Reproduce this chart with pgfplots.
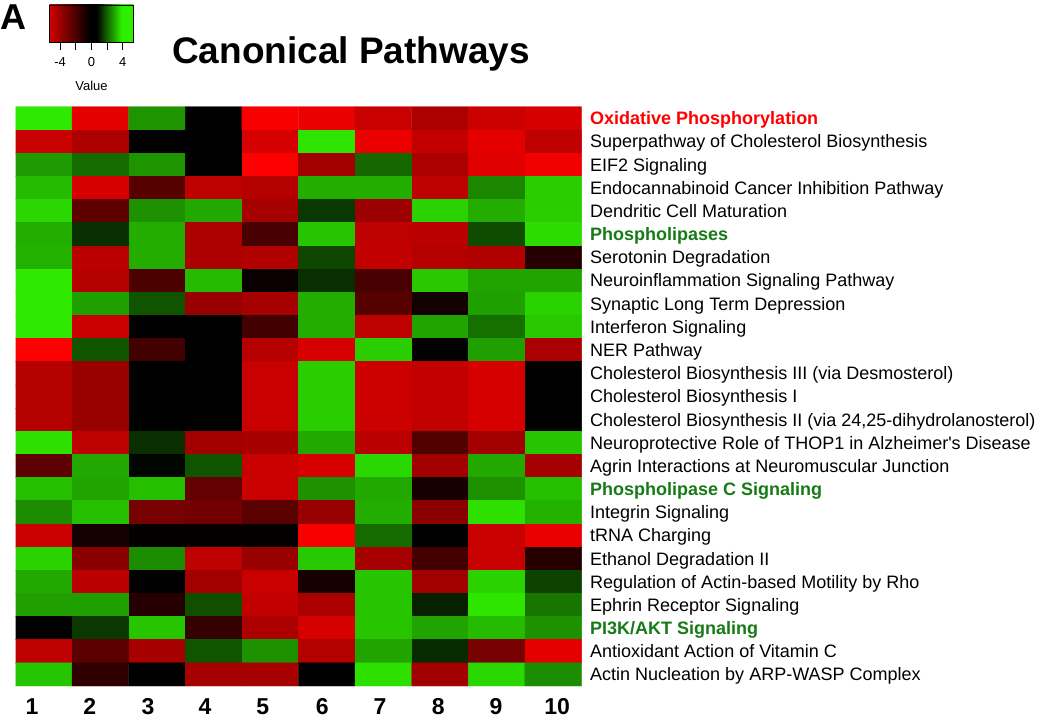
\documentclass[border=0pt]{standalone}
\usepackage{pgfplots}
\pgfplotsset{compat=1.18}
\usepackage{fontspec}
\setmainfont{Liberation Sans}
\definecolor{hlred}{RGB}{255,0,0}
\definecolor{hlgreen}{RGB}{22,122,22}
\definecolor{keyred}{RGB}{255,0,0}
\definecolor{keygreen}{RGB}{45,240,0}
\pgfdeclarehorizontalshading{keyshade}{100bp}{color(0bp)=(keyred); color(20bp)=(keyred); color(49bp)=(black); color(53bp)=(black); color(68bp)=(keygreen); color(100bp)=(keygreen)}

\begin{document}
\begin{tikzpicture}[x=1pt,y=1pt]
\path[use as bounding box] (0,0) rectangle (1050,-718);
\begin{axis}[
  at={(15.5pt,-106.7pt)}, anchor=north west,
  scale only axis, width=566pt, height=579.3pt,
  xmin=0.5, xmax=10.5, ymin=0.5, ymax=25.5,
  axis line style={draw=none},
  major tick length=0pt,
  colormap={rg}{rgb255(0cm)=(255,0,0); rgb255(1cm)=(0,0,0); rgb255(2cm)=(50,250,0)},
  point meta min=-5.35, point meta max=5.35,
  xtick={0.79,1.81,2.84,3.85,4.87,5.92,6.94,7.97,8.99,10.07},
  xticklabels={1,2,3,4,5,6,7,8,9,10},
  xticklabel style={font=\fontsize{23}{24}\selectfont\bfseries, anchor=base, yshift=-28pt, inner sep=0pt},
  ytick={1,...,25},
  yticklabel pos=right,
  yticklabels={
    Actin Nucleation by ARP-WASP Complex,
    Antioxidant Action of Vitamin C,
    \textcolor{hlgreen}{\bfseries PI3K/AKT Signaling},
    Ephrin Receptor Signaling,
    Regulation of Actin-based Motility by Rho,
    Ethanol Degradation II,
    tRNA Charging,
    Integrin Signaling,
    \textcolor{hlgreen}{\bfseries Phospholipase C Signaling},
    Agrin Interactions at Neuromuscular Junction,
    Neuroprotective Role of THOP1 in Alzheimer\textquotesingle s Disease,
    {Cholesterol Biosynthesis II (via 24,25-dihydrolanosterol)},
    Cholesterol Biosynthesis I,
    Cholesterol Biosynthesis III (via Desmosterol),
    NER Pathway,
    Interferon Signaling,
    Synaptic Long Term Depression,
    Neuroinflammation Signaling Pathway,
    Serotonin Degradation,
    \textcolor{hlgreen}{\bfseries Phospholipases},
    Dendritic Cell Maturation,
    Endocannabinoid Cancer Inhibition Pathway,
    EIF2 Signaling,
    Superpathway of Cholesterol Biosynthesis,
    \textcolor{hlred}{\bfseries Oxidative Phosphorylation}
  },
  yticklabel style={font=\fontsize{18}{20}\selectfont, anchor=base west, inner sep=0pt, xshift=8.5pt, yshift=-6.5pt},
  colorbar horizontal,
  colorbar style={
    at={(0.06,1.1756)}, anchor=north west,
    scale only axis, width=84pt, height=37pt,
    ymin=0, ymax=1,
    axis line style={draw=none},
    xtick={-4,-2,0,2,4}, xticklabels={-4,,0,,4},
    xtick pos=lower, tick align=outside, major tick length=8pt,
    tick style={line width=0.8pt, black},
    xticklabel style={font=\fontsize{13}{13}\selectfont, yshift=-4pt},
    xlabel={Value},
    xlabel style={font=\fontsize{13}{13}\selectfont, yshift=-7pt},
    extra description/.code={
      \shade[shading=keyshade] (rel axis cs:0,0) rectangle (rel axis cs:1,1);
      \draw[black, line width=0.8pt] (rel axis cs:0,0) rectangle (rel axis cs:1,1);
    },
  },
]
\addplot[matrix plot*, mesh/cols=10, point meta=explicit] coordinates {
(1,25)[5.0] (2,25)[-4.8] (3,25)[3.2] (4,25)[0] (5,25)[-5.2] (6,25)[-4.9] (7,25)[-4.2] (8,25)[-3.6] (9,25)[-4.3] (10,25)[-4.5]
(1,24)[-4.2] (2,24)[-3.6] (3,24)[0] (4,24)[0] (5,24)[-4.5] (6,24)[4.9] (7,24)[-4.9] (8,24)[-4.1] (9,24)[-4.8] (10,24)[-4.0]
(1,23)[3.3] (2,23)[2.3] (3,23)[3.2] (4,23)[0] (5,23)[-5.3] (6,23)[-3.4] (7,23)[2.2] (8,23)[-3.6] (9,23)[-4.7] (10,23)[-5.1]
(1,22)[4.0] (2,22)[-4.5] (3,22)[-1.8] (4,22)[-4.0] (5,22)[-3.8] (6,22)[3.7] (7,22)[3.7] (8,22)[-4.0] (9,22)[2.9] (10,22)[4.4]
(1,21)[4.6] (2,21)[-2.0] (3,21)[3.1] (4,21)[3.6] (5,21)[-3.5] (6,21)[1.2] (7,21)[-3.3] (8,21)[4.5] (9,21)[3.7] (10,21)[4.4]
(1,20)[3.7] (2,20)[1.0] (3,20)[3.7] (4,20)[-3.6] (5,20)[-1.5] (6,20)[4.2] (7,20)[-4.0] (8,20)[-3.9] (9,20)[1.6] (10,20)[4.7]
(1,19)[3.8] (2,19)[-3.9] (3,19)[3.7] (4,19)[-3.6] (5,19)[-3.7] (6,19)[1.5] (7,19)[-4.1] (8,19)[-3.8] (9,19)[-3.7] (10,19)[-0.8]
(1,18)[5.0] (2,18)[-3.8] (3,18)[-1.6] (4,18)[4.0] (5,18)[-0.2] (6,18)[1.0] (7,18)[-1.5] (8,18)[4.3] (9,18)[3.5] (10,18)[3.5]
(1,17)[5.0] (2,17)[3.4] (3,17)[1.8] (4,17)[-3.2] (5,17)[-3.5] (6,17)[3.7] (7,17)[-1.8] (8,17)[-0.4] (9,17)[3.4] (10,17)[4.5]
(1,16)[5.0] (2,16)[-4.2] (3,16)[0] (4,16)[0] (5,16)[-1.4] (6,16)[3.7] (7,16)[-4.0] (8,16)[3.5] (9,16)[2.4] (10,16)[4.3]
(1,15)[-5.3] (2,15)[1.8] (3,15)[-1.4] (4,15)[0] (5,15)[-3.8] (6,15)[-4.5] (7,15)[4.4] (8,15)[0] (9,15)[3.4] (10,15)[-3.6]
(1,14)[-3.8] (2,14)[-3.2] (3,14)[0] (4,14)[0] (5,14)[-4.2] (6,14)[4.4] (7,14)[-4.3] (8,14)[-4.1] (9,14)[-4.5] (10,14)[0]
(1,13)[-3.8] (2,13)[-3.2] (3,13)[0] (4,13)[0] (5,13)[-4.2] (6,13)[4.4] (7,13)[-4.3] (8,13)[-4.1] (9,13)[-4.5] (10,13)[0]
(1,12)[-3.8] (2,12)[-3.2] (3,12)[0] (4,12)[0] (5,12)[-4.2] (6,12)[4.4] (7,12)[-4.3] (8,12)[-4.1] (9,12)[-4.5] (10,12)[0]
(1,11)[4.8] (2,11)[-4.0] (3,11)[1.0] (4,11)[-3.4] (5,11)[-3.5] (6,11)[3.6] (7,11)[-3.9] (8,11)[-1.7] (9,11)[-3.4] (10,11)[4.2]
(1,10)[-2.0] (2,10)[3.6] (3,10)[0.1] (4,10)[1.8] (5,10)[-4.2] (6,10)[-4.5] (7,10)[4.6] (8,10)[-3.4] (9,10)[3.6] (10,10)[-3.5]
(1,9)[4.1] (2,9)[3.5] (3,9)[4.1] (4,9)[-2.1] (5,9)[-4.2] (6,9)[3.1] (7,9)[3.6] (8,9)[-0.5] (9,9)[3.1] (10,9)[4.1]
(1,8)[3.0] (2,8)[4.1] (3,8)[-2.5] (4,8)[-2.4] (5,8)[-1.9] (6,8)[-3.2] (7,8)[3.7] (8,8)[-2.9] (9,8)[4.8] (10,8)[3.8]
(1,7)[-4.2] (2,7)[-0.4] (3,7)[-0.1] (4,7)[-0.1] (5,7)[-0.1] (6,7)[-5.2] (7,7)[2.3] (8,7)[0] (9,7)[-4.2] (10,7)[-4.9]
(1,6)[4.5] (2,6)[-2.9] (3,6)[3.0] (4,6)[-4.0] (5,6)[-3.2] (6,6)[4.3] (7,6)[-3.5] (8,6)[-1.4] (9,6)[-4.2] (10,6)[-0.8]
(1,5)[3.6] (2,5)[-3.9] (3,5)[0] (4,5)[-3.4] (5,5)[-4.2] (6,5)[-0.5] (7,5)[4.2] (8,5)[-3.4] (9,5)[4.5] (10,5)[1.4]
(1,4)[3.4] (2,4)[3.4] (3,4)[-0.8] (4,4)[1.7] (5,4)[-4.1] (6,4)[-3.6] (7,4)[4.2] (8,4)[0.7] (9,4)[4.9] (10,4)[2.5]
(1,3)[0] (2,3)[1.2] (3,3)[4.2] (4,3)[-1.1] (5,3)[-3.6] (6,3)[-4.5] (7,3)[4.2] (8,3)[3.5] (9,3)[4.0] (10,3)[3.1]
(1,2)[-4.0] (2,2)[-1.9] (3,2)[-3.5] (4,2)[1.8] (5,2)[3.1] (6,2)[-3.8] (7,2)[3.5] (8,2)[0.9] (9,2)[-2.5] (10,2)[-4.8]
(1,1)[4.2] (2,1)[-1.0] (3,1)[0] (4,1)[-3.5] (5,1)[-3.5] (6,1)[0] (7,1)[4.8] (8,1)[-3.4] (9,1)[4.6] (10,1)[3.0]
};
\end{axis}
\node[anchor=base west, inner sep=0pt, font=\fontsize{36}{38}\selectfont\bfseries] at (0,-29) {A};
\node[anchor=base, inner sep=0pt, font=\fontsize{37}{40}\selectfont\bfseries] at (351,-63) {Canonical Pathways};
\end{tikzpicture}
\end{document}
